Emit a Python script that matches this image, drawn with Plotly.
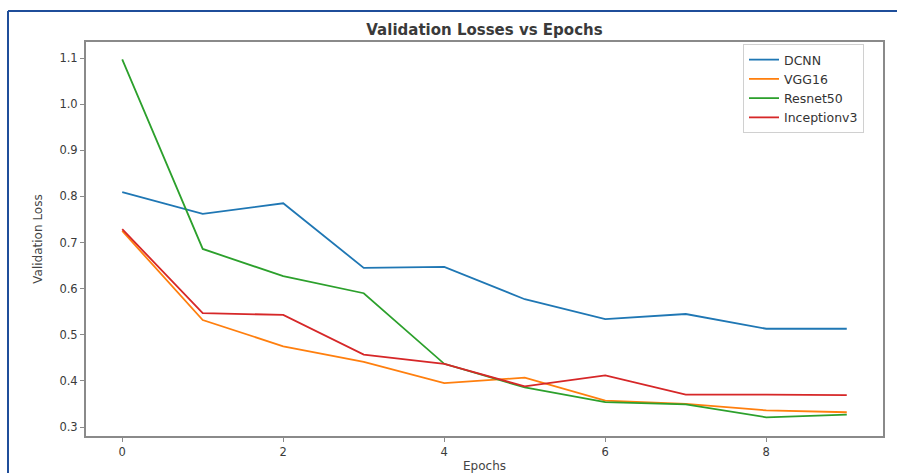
import plotly.graph_objects as go

epochs = [0, 1, 2, 3, 4, 5, 6, 7, 8, 9]
dcnn = [0.809, 0.762, 0.785, 0.645, 0.647, 0.577, 0.534, 0.545, 0.513, 0.513]
vgg16 = [0.725, 0.532, 0.475, 0.441, 0.395, 0.407, 0.357, 0.350, 0.336, 0.332]
resnet50 = [1.097, 0.686, 0.627, 0.590, 0.437, 0.386, 0.354, 0.349, 0.321, 0.327]
inceptionv3 = [0.729, 0.547, 0.543, 0.457, 0.437, 0.388, 0.412, 0.370, 0.370, 0.369]

series_names = ["DCNN", "VGG16", "Resnet50", "Inceptionv3"]
series_values = [dcnn, vgg16, resnet50, inceptionv3]
colors = ["#1f77b4", "#ff7f0e", "#2ca02c", "#d62728"]

x_ticks = [0, 2, 4, 6, 8]
y_ticks = [0.3, 0.4, 0.5, 0.6, 0.7, 0.8, 0.9, 1.0, 1.1]

W, H = 897, 473
L, R, T, B = 86, 14, 42, 37
pw, ph = W - L - R, H - T - B

fig = go.Figure()
for name, vals, c in zip(series_names, series_values, colors):
    fig.add_trace(go.Scatter(x=epochs, y=vals, mode="lines", name=name,
                             line=dict(color=c, width=1.8)))

axis_common = dict(showline=True, linecolor="#8a8a8a", linewidth=2, mirror=True,
                   showgrid=False, zeroline=False, ticks="outside", ticklen=4,
                   tickcolor="#8a8a8a", tickwidth=1, automargin=False,
                   tickfont=dict(family="DejaVu Sans", size=11.5, color="#3a3a3a"))

fig.update_layout(
    width=W, height=H,
    margin=dict(l=L, r=R, t=T, b=B, autoexpand=False),
    paper_bgcolor="white", plot_bgcolor="white",
    title=dict(text="<b>Validation Losses vs Epochs</b>", x=(L + pw / 2) / W, xanchor="center",
               y=1 - 30 / H, yanchor="middle", yref="container", automargin=False,
               font=dict(family="DejaVu Sans", size=15, color="#3a3a3a")),
    xaxis=dict(range=[-0.45, 9.45], tickvals=x_ticks,
               title=dict(text="Epochs", standoff=6,
                          font=dict(family="DejaVu Sans", size=12, color="#444")),
               **axis_common),
    yaxis=dict(range=[0.2805, 1.1347], tickvals=y_ticks, tickformat=".1f",
               title=dict(text="Validation Loss", standoff=14,
                          font=dict(family="DejaVu Sans", size=12, color="#444")),
               **axis_common),
    legend=dict(x=(743 - L) / pw, y=(H - B - 44) / ph, xanchor="left", yanchor="top",
                bordercolor="#d0d0d0", borderwidth=1, bgcolor="white",
                font=dict(family="DejaVu Sans", size=12.5, color="#333"),
                itemwidth=30, tracegroupgap=0),
    showlegend=True,
)

# blue frame (left and top edges visible)
bx = (8 - L) / pw
by = (H - B - 11) / ph
fig.add_shape(type="line", xref="paper", yref="paper", x0=bx, x1=bx, y0=-0.2, y1=by,
              line=dict(color="#1f4e9a", width=2))
fig.add_shape(type="line", xref="paper", yref="paper", x0=bx, x1=1.1, y0=by, y1=by,
              line=dict(color="#1f4e9a", width=2))

fig.write_html("out.html", config={"displayModeBar": False},
               post_script="document.body.style.margin='0';document.body.style.overflow='hidden';")
